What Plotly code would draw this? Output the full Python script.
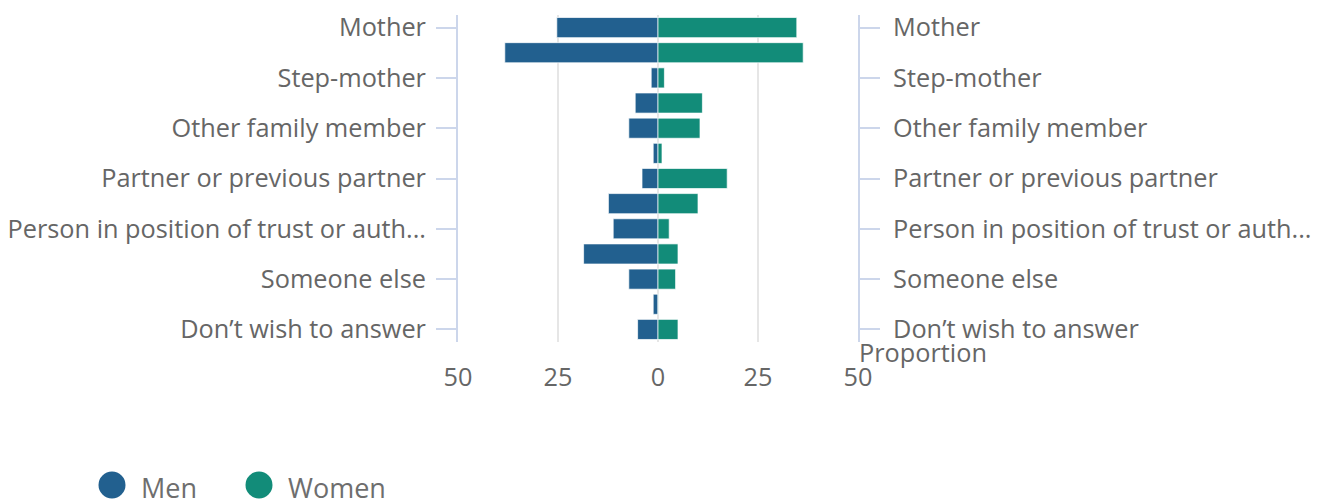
import plotly.graph_objects as go

categories = ["Mother", "Father", "Step-mother", "Step-father", "Other family member",
              "Carer", "Partner or previous partner", "Friend or acquaintance",
              "Person in position of trust or auth...", "Stranger", "Someone else",
              "Don't know", "Don\u2019t wish to answer"]
men = [25.3, 38.3, 1.7, 5.7, 7.3, 1.2, 4.0, 12.4, 11.2, 18.6, 7.3, 1.2, 5.1]
women = [34.7, 36.3, 1.6, 11.1, 10.5, 1.0, 17.3, 10.0, 2.8, 5.0, 4.4, 0.1, 5.0]
x_tickvals = [-50, -25, 0, 25, 50]
x_ticktext = ["50", "25", "0", "25", "50"]
shown_labels = categories[::2]

MEN_C = "#22608f"
WOMEN_C = "#128c79"
GREY = "#666666"
AXIS_C = "#ccd6eb"
FONT = "Open Sans"
FS = 25.3
LEG_FS = 27

OFF = 8  # default page body margin
W, H = 1320 - OFF, 501 - OFF
L, T = 458 - OFF, 15 - OFF
pw, ph = 400, 327
R, B = W - L - pw, H - T - ph

fig = go.Figure()
fig.add_trace(go.Bar(name="Men", y=categories, x=[-v for v in men], orientation="h",
                     marker=dict(color=MEN_C, line=dict(color="rgba(255,255,255,0.7)", width=1)),
                     yaxis="y", showlegend=False))
fig.add_trace(go.Bar(name="Women", y=categories, x=women, orientation="h",
                     marker=dict(color=WOMEN_C, line=dict(color="rgba(255,255,255,0.7)", width=1)),
                     yaxis="y2", showlegend=False))

yax_common = dict(type="category", categoryorder="array", categoryarray=categories,
                  autorange="reversed", tickmode="array", tickvals=shown_labels,
                  ticks="outside", ticklen=20, tickwidth=2, tickcolor=AXIS_C,
                  showline=True, linecolor=AXIS_C, linewidth=2, showgrid=False,
                  automargin=False,
                  tickfont=dict(family=FONT, size=FS, color=GREY))

fig.update_layout(
    width=W, height=H, margin=dict(l=L, r=R, t=T, b=B, autoexpand=False),
    paper_bgcolor="white", plot_bgcolor="white",
    barmode="relative", bargap=0.2,
    font=dict(family=FONT, size=FS, color=GREY),
    xaxis=dict(range=[-50, 50], tickmode="array", tickvals=x_tickvals, ticktext=x_ticktext,
               showgrid=True, gridcolor="#e6e6e6", gridwidth=2, zeroline=False,
               showline=False, ticks="", ticklabelstandoff=18, automargin=False,
               tickfont=dict(family=FONT, size=FS, color=GREY)),
    yaxis=dict(**yax_common, side="left", ticklabelstandoff=5),
    yaxis2=dict(**yax_common, side="right", overlaying="y", ticklabelstandoff=8),
    showlegend=False,
)

fig.add_annotation(text="Proportion", xref="paper", yref="paper", x=1, y=0,
                   xanchor="left", yanchor="top", showarrow=False, xshift=-1, yshift=9,
                   font=dict(family=FONT, size=FS, color=GREY))

def px_x(px):
    return (px - OFF - L) / pw

def px_y(py):
    return (H - B - (py - OFF)) / ph

legend_items = [("Men", MEN_C, 112, 142), ("Women", WOMEN_C, 259, 289)]
for name, col, cx, tx in legend_items:
    fig.add_shape(type="circle", xref="paper", yref="paper", xsizemode="pixel", ysizemode="pixel",
                  xanchor=px_x(cx), yanchor=px_y(485), x0=-13.5, x1=13.5, y0=-13.5, y1=13.5,
                  fillcolor=col, line=dict(width=0))
    fig.add_annotation(text=name, xref="paper", yref="paper", x=px_x(tx - 3), y=px_y(487),
                       xanchor="left", yanchor="middle", showarrow=False,
                       font=dict(family=FONT, size=LEG_FS, color="#6e6e6e"))

fig.write_html("out.html")
